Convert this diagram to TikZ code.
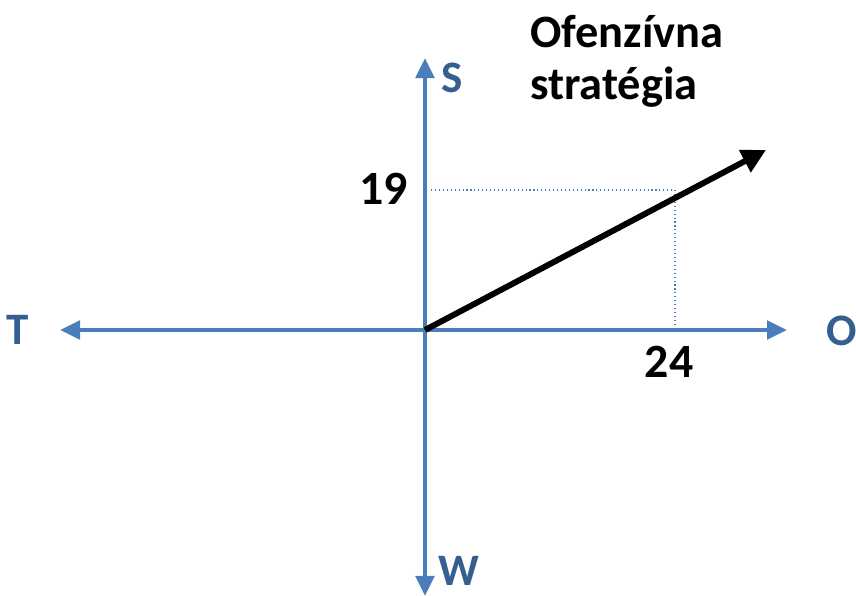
\documentclass[tikz,border=0pt]{standalone}
\usepackage{fontspec}
\setmainfont{Carlito}
\usetikzlibrary{arrows.meta,positioning,calc}
\definecolor{axisblue}{RGB}{74,126,187}
\definecolor{labelblue}{RGB}{54,95,145}
\tikzset{
  axisln/.style={-{Triangle[length=5mm,width=4.6mm]}, line width=2.8pt, axisblue},
  vec/.style={-{Triangle[length=6mm,width=6mm]}, line width=4.2pt},
  projln/.style={dotted, line width=0.8pt, axisblue},
  axislabel/.style={font=\bfseries\fontsize{32}{34}\selectfont, labelblue, anchor=base, inner sep=0pt},
  numlabel/.style={font=\bfseries\fontsize{34}{36}\selectfont, anchor=base, inner sep=0pt},
}

\begin{document}
\begin{tikzpicture}[x=0.025cm, y=-0.025cm]
    \useasboundingbox (0,0) rectangle (856,596);
    \coordinate (O) at (425,330);
    \coordinate (E) at (787,330);
    \coordinate (Wst) at (60,330);
    \coordinate (N) at (425,58);
    \coordinate (Sth) at (425,596);
    \coordinate (V) at (766,150);
    \coordinate (P) at (675,190);
    % axes
    \draw[axisln] (O) -- (E);
    \draw[axisln] (O) -- (Wst);
    \draw[axisln] (O) -- (N);
    \draw[axisln] (O) -- (Sth);
    % projection lines
    \draw[projln] (431,190) -- (P);
    \draw[projln] (P) -- (675,328);
    % strategy vector
    \draw[vec] (O) -- (V);
    % axis labels
    \node[axislabel] (lS) at (452,93) {S};
    \node[axislabel] (lT) at (18,345) {T};
    \node[axislabel] (lO) at (842,346) {O};
    \node[axislabel] (lW) at (459,586) {W};
    % values
    \node[numlabel, anchor=base east] (v19) at (408,205) {19};
    \node[numlabel] (v24) at (669,378) {24};
    % title
    \node[font=\bfseries\fontsize{33}{37.6}\selectfont, anchor=base west, align=left, inner sep=0pt] (title) at (530,100)
      {Ofenzívna\\stratégia};
\end{tikzpicture}
\end{document}
